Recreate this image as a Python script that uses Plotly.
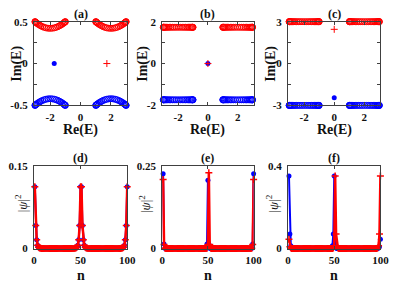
import plotly.graph_objects as go
from plotly.subplots import make_subplots

# The page body adds an 8 px margin, so the figure is drawn 8 px smaller and
# all reference pixel positions are shifted by that offset.
OFF = 8
W, H = 399 - OFF, 289 - OFF
FONT = "'Liberation Serif', 'Times New Roman', Times, serif"
BLUE = "#0000ff"
RED = "#ff0000"
AX = "#404040"
TXT = "#111111"

# ---------------- Row 1: complex spectra ----------------
band_re = [1.0, 1.01, 1.03, 1.06, 1.1, 1.16, 1.23, 1.31, 1.4, 1.5, 1.61, 1.73, 1.86, 2.0,
           2.14, 2.27, 2.39, 2.5, 2.6, 2.69, 2.77, 2.84, 2.9, 2.94, 2.97, 2.99, 3.0]
band_im_a = [0.5, 0.4984, 0.4953, 0.4907, 0.4848, 0.4765, 0.4674, 0.4581, 0.4488, 0.44,
             0.4322, 0.4258, 0.4216, 0.42, 0.4216, 0.4258, 0.4322, 0.44, 0.4488, 0.4581,
             0.4674, 0.4765, 0.4848, 0.4907, 0.4953, 0.4984, 0.5]
band_im_b = 1.732
band_im_c = 3.0

# isolated (edge) states: (Re, Im)
edge_blue = {"a": (-1.732, 0.0), "b": (0.0, 0.0), "c": (0.0, -2.45)}
edge_red = {"a": (1.732, 0.0), "b": (0.0, 0.0), "c": (0.0, 2.45)}

# ---------------- Row 2: |psi|^2 profiles ----------------
n_sites = list(range(1, 101))
Z10 = [0, 0, 0, 0, 0, 0, 0, 0, 0, 0]
d_blue = ([0.112, 0.042, 0.016, 0.006, 0.0023, 0.0009, 0.0003, 0, 0, 0] + Z10 + Z10 + Z10 +
          [0, 0, 0, 0.0003, 0.0009, 0.0023, 0.006, 0.016, 0.042, 0.112] +
          [0.112, 0.042, 0.016, 0.006, 0.0023, 0.0009, 0.0003, 0, 0, 0] + Z10 + Z10 + Z10 +
          [0, 0, 0, 0.0003, 0.0009, 0.0023, 0.006, 0.016, 0.042, 0.112])
d_red = ([0.112, 0.042, 0.016, 0.006, 0.0023, 0.0009, 0.0003, 0, 0, 0] + Z10 + Z10 + Z10 +
         [0, 0, 0, 0.0003, 0.0009, 0.0023, 0.006, 0.016, 0.042, 0.112] +
         [0.112, 0.042, 0.016, 0.006, 0.0023, 0.0009, 0.0003, 0, 0, 0] + Z10 + Z10 + Z10 +
         [0, 0, 0, 0.0003, 0.0009, 0.0023, 0.006, 0.016, 0.042, 0.112])
e_blue = ([0.226, 0.014, 0.001, 0, 0, 0, 0, 0, 0, 0] + Z10 + Z10 + Z10 +
          [0, 0, 0, 0, 0, 0, 0, 0.001, 0.014, 0.207] +
          [0.014, 0.001, 0, 0, 0, 0, 0, 0, 0, 0] + Z10 + Z10 + Z10 +
          [0, 0, 0, 0, 0, 0, 0, 0.001, 0.014, 0.226])
e_red = ([0.209, 0.012, 0.001, 0, 0, 0, 0, 0, 0, 0] + Z10 + Z10 + Z10 +
         [0, 0, 0, 0, 0, 0, 0, 0, 0.001, 0.012] +
         [0.229, 0.012, 0.001, 0, 0, 0, 0, 0, 0, 0] + Z10 + Z10 + Z10 +
         [0, 0, 0, 0, 0, 0, 0, 0.001, 0.012, 0.209])
f_blue = ([0.351, 0.07, 0.014, 0.003, 0.0006, 0, 0, 0, 0, 0] + Z10 + Z10 + Z10 +
          [0, 0, 0, 0, 0, 0.0006, 0.003, 0.014, 0.07, 0.351] +
          [0.01, 0.002, 0, 0, 0, 0, 0, 0, 0, 0] + Z10 + Z10 + Z10 +
          [0, 0, 0, 0, 0, 0, 0.0004, 0.002, 0.009, 0.045])
f_red = ([0.045, 0.009, 0.002, 0.0004, 0, 0, 0, 0, 0, 0] + Z10 + Z10 + Z10 +
         [0, 0, 0, 0, 0, 0, 0, 0, 0.002, 0.01] +
         [0.351, 0.07, 0.014, 0.003, 0.0006, 0, 0, 0, 0, 0] + Z10 + Z10 + Z10 +
         [0, 0, 0, 0, 0, 0.0006, 0.003, 0.014, 0.07, 0.351])

# ---------------- axis settings ----------------
top_ylim = {"a": 0.5, "b": 2.0, "c": 3.0}
top_yticks = {"a": ([-0.5, -0.25, 0, 0.25, 0.5], ["-0.5", "", "0", "", "0.5"]),
              "b": ([-2, -1, 0, 1, 2], ["-2", "", "0", "", "2"]),
              "c": ([-3, -1.5, 0, 1.5, 3], ["-3", "", "0", "", "3"])}
re_ticks = [-2, 0, 2]
re_ticktext = ["-2", "0", "2"]
re_range = [-3.07, 3.07]
bot_ymax = {"d": 0.15, "e": 0.25, "f": 0.4}
bot_yticktext = {"d": ["0", "0.15"], "e": ["0", "0.25"], "f": ["0", "0.4"]}
n_ticks = [0, 50, 100]

# panel boxes in reference pixels (left, right) and (top, bottom)
cols_px = [(27.7, 125.0), (161.5, 256.8), (292.7, 389.0)]
row1_px = (16.0, 103.5)
row2_px = (166.7, 253.0)


def px_x(x):
    return (x - OFF) / W


def px_y(y):
    return 1 - (y - OFF) / H


fig = make_subplots(rows=2, cols=3)

# Row 1 traces
for ci, key in enumerate(["a", "b", "c"]):
    col = ci + 1
    if key == "a":
        im_vals = band_im_a
    elif key == "b":
        im_vals = [band_im_b for _ in band_re]
    else:
        im_vals = [band_im_c for _ in band_re]
    for sgn_re in (-1, 1):
        xs = [sgn_re * r for r in band_re]
        fig.add_trace(go.Scatter(x=xs, y=im_vals, mode="markers", cliponaxis=False,
                                 marker=dict(symbol="circle-open", size=6, color=RED,
                                             line=dict(width=1, color=RED)),
                                 showlegend=False), row=1, col=col)
        fig.add_trace(go.Scatter(x=xs, y=[-v for v in im_vals], mode="markers",
                                 cliponaxis=False,
                                 marker=dict(symbol="circle-open", size=6, color=BLUE,
                                             line=dict(width=1, color=BLUE)),
                                 showlegend=False), row=1, col=col)
    bx, by = edge_blue[key]
    rx, ry = edge_red[key]
    fig.add_trace(go.Scatter(x=[bx], y=[by], mode="markers", cliponaxis=False,
                             marker=dict(symbol="circle", size=5, color=BLUE),
                             showlegend=False), row=1, col=col)
    fig.add_trace(go.Scatter(x=[rx], y=[ry], mode="markers", cliponaxis=False,
                             marker=dict(symbol="cross-thin-open", size=5, color=RED,
                                         line=dict(width=1, color=RED)),
                             showlegend=False), row=1, col=col)

# Row 2 traces
row2_data = {"d": (d_blue, d_red), "e": (e_blue, e_red), "f": (f_blue, f_red)}
for ci, key in enumerate(["d", "e", "f"]):
    col = ci + 1
    yb, yr = row2_data[key]
    fig.add_trace(go.Scatter(x=n_sites, y=yb, mode="lines+markers", cliponaxis=False,
                             line=dict(color=BLUE, width=2),
                             marker=dict(symbol="circle", size=5, color=BLUE),
                             showlegend=False), row=2, col=col)
    fig.add_trace(go.Scatter(x=n_sites, y=yr, mode="lines+markers", cliponaxis=False,
                             line=dict(color=RED, width=2.5),
                             marker=dict(symbol="cross-thin-open", size=5, color=RED,
                                         line=dict(width=1.5, color=RED)),
                             showlegend=False), row=2, col=col)

axis_common = dict(showline=True, mirror="allticks", linecolor=AX, linewidth=1,
                   ticks="inside", ticklen=3, tickcolor=AX, tickwidth=1,
                   showgrid=False, zeroline=False,
                   tickfont=dict(family=FONT, size=11, color=TXT, weight="bold"))

for ci, key in enumerate(["a", "b", "c"]):
    col = ci + 1
    l, r = cols_px[ci]
    fig.update_xaxes(row=1, col=col, domain=[px_x(l), px_x(r)], range=re_range,
                     tickvals=re_ticks, ticktext=re_ticktext, ticklabelstandoff=1,
                     **axis_common)
    tv, tt = top_yticks[key]
    lim = top_ylim[key]
    fig.update_yaxes(row=1, col=col, domain=[px_y(row1_px[1]), px_y(row1_px[0])],
                     range=[-lim, lim], tickvals=tv, ticktext=tt, ticklabelstandoff=3,
                     **axis_common)

for ci, key in enumerate(["d", "e", "f"]):
    col = ci + 1
    l, r = cols_px[ci]
    fig.update_xaxes(row=2, col=col, domain=[px_x(l), px_x(r)], range=[0, 100],
                     tickvals=n_ticks, ticktext=[str(v) for v in n_ticks],
                     ticklabelstandoff=1, **axis_common)
    ym = bot_ymax[key]
    fig.update_yaxes(row=2, col=col, domain=[px_y(row2_px[1]), px_y(row2_px[0])],
                     range=[0, ym], tickvals=[0, ym], ticktext=bot_yticktext[key],
                     ticklabelstandoff=3, **axis_common)

ann = []
titles_top = ["(a)", "(b)", "(c)"]
titles_bot = ["(d)", "(e)", "(f)"]
ylab_x_top = [10, 141.5, 275]
ylab_x_bot = [14, 143, 276]
for ci in range(3):
    l, r = cols_px[ci]
    cx = (l + r) / 2
    ann.append(dict(x=px_x(cx), y=px_y(8), text="<b>%s</b>" % titles_top[ci],
                    font=dict(family=FONT, size=12, color=TXT)))
    ann.append(dict(x=px_x(cx), y=px_y(158.5), text="<b>%s</b>" % titles_bot[ci],
                    font=dict(family=FONT, size=12, color=TXT)))
    ann.append(dict(x=px_x(cx), y=px_y(129), text="<b>Re(E)</b>",
                    font=dict(family=FONT, size=14, color=TXT)))
    ann.append(dict(x=px_x(cx), y=px_y(281), text="<b>n</b>",
                    font=dict(family=FONT, size=14, color=TXT)))
    ann.append(dict(x=px_x(ylab_x_top[ci]), y=px_y(60), text="<b>Im(E)</b>", textangle=-90,
                    font=dict(family=FONT, size=14, color=TXT)))
    ann.append(dict(x=px_x(ylab_x_bot[ci]), y=px_y(206), text="|<i>ψ</i>|<sup>2</sup>",
                    textangle=-90, font=dict(family=FONT, size=13, color=TXT)))
for a in ann:
    a.update(xref="paper", yref="paper", showarrow=False, xanchor="center",
             yanchor="middle")

fig.update_layout(width=W, height=H, margin=dict(l=0, r=0, t=0, b=0),
                  paper_bgcolor="white", plot_bgcolor="white", annotations=ann,
                  showlegend=False)

fig.write_html("out.html")
